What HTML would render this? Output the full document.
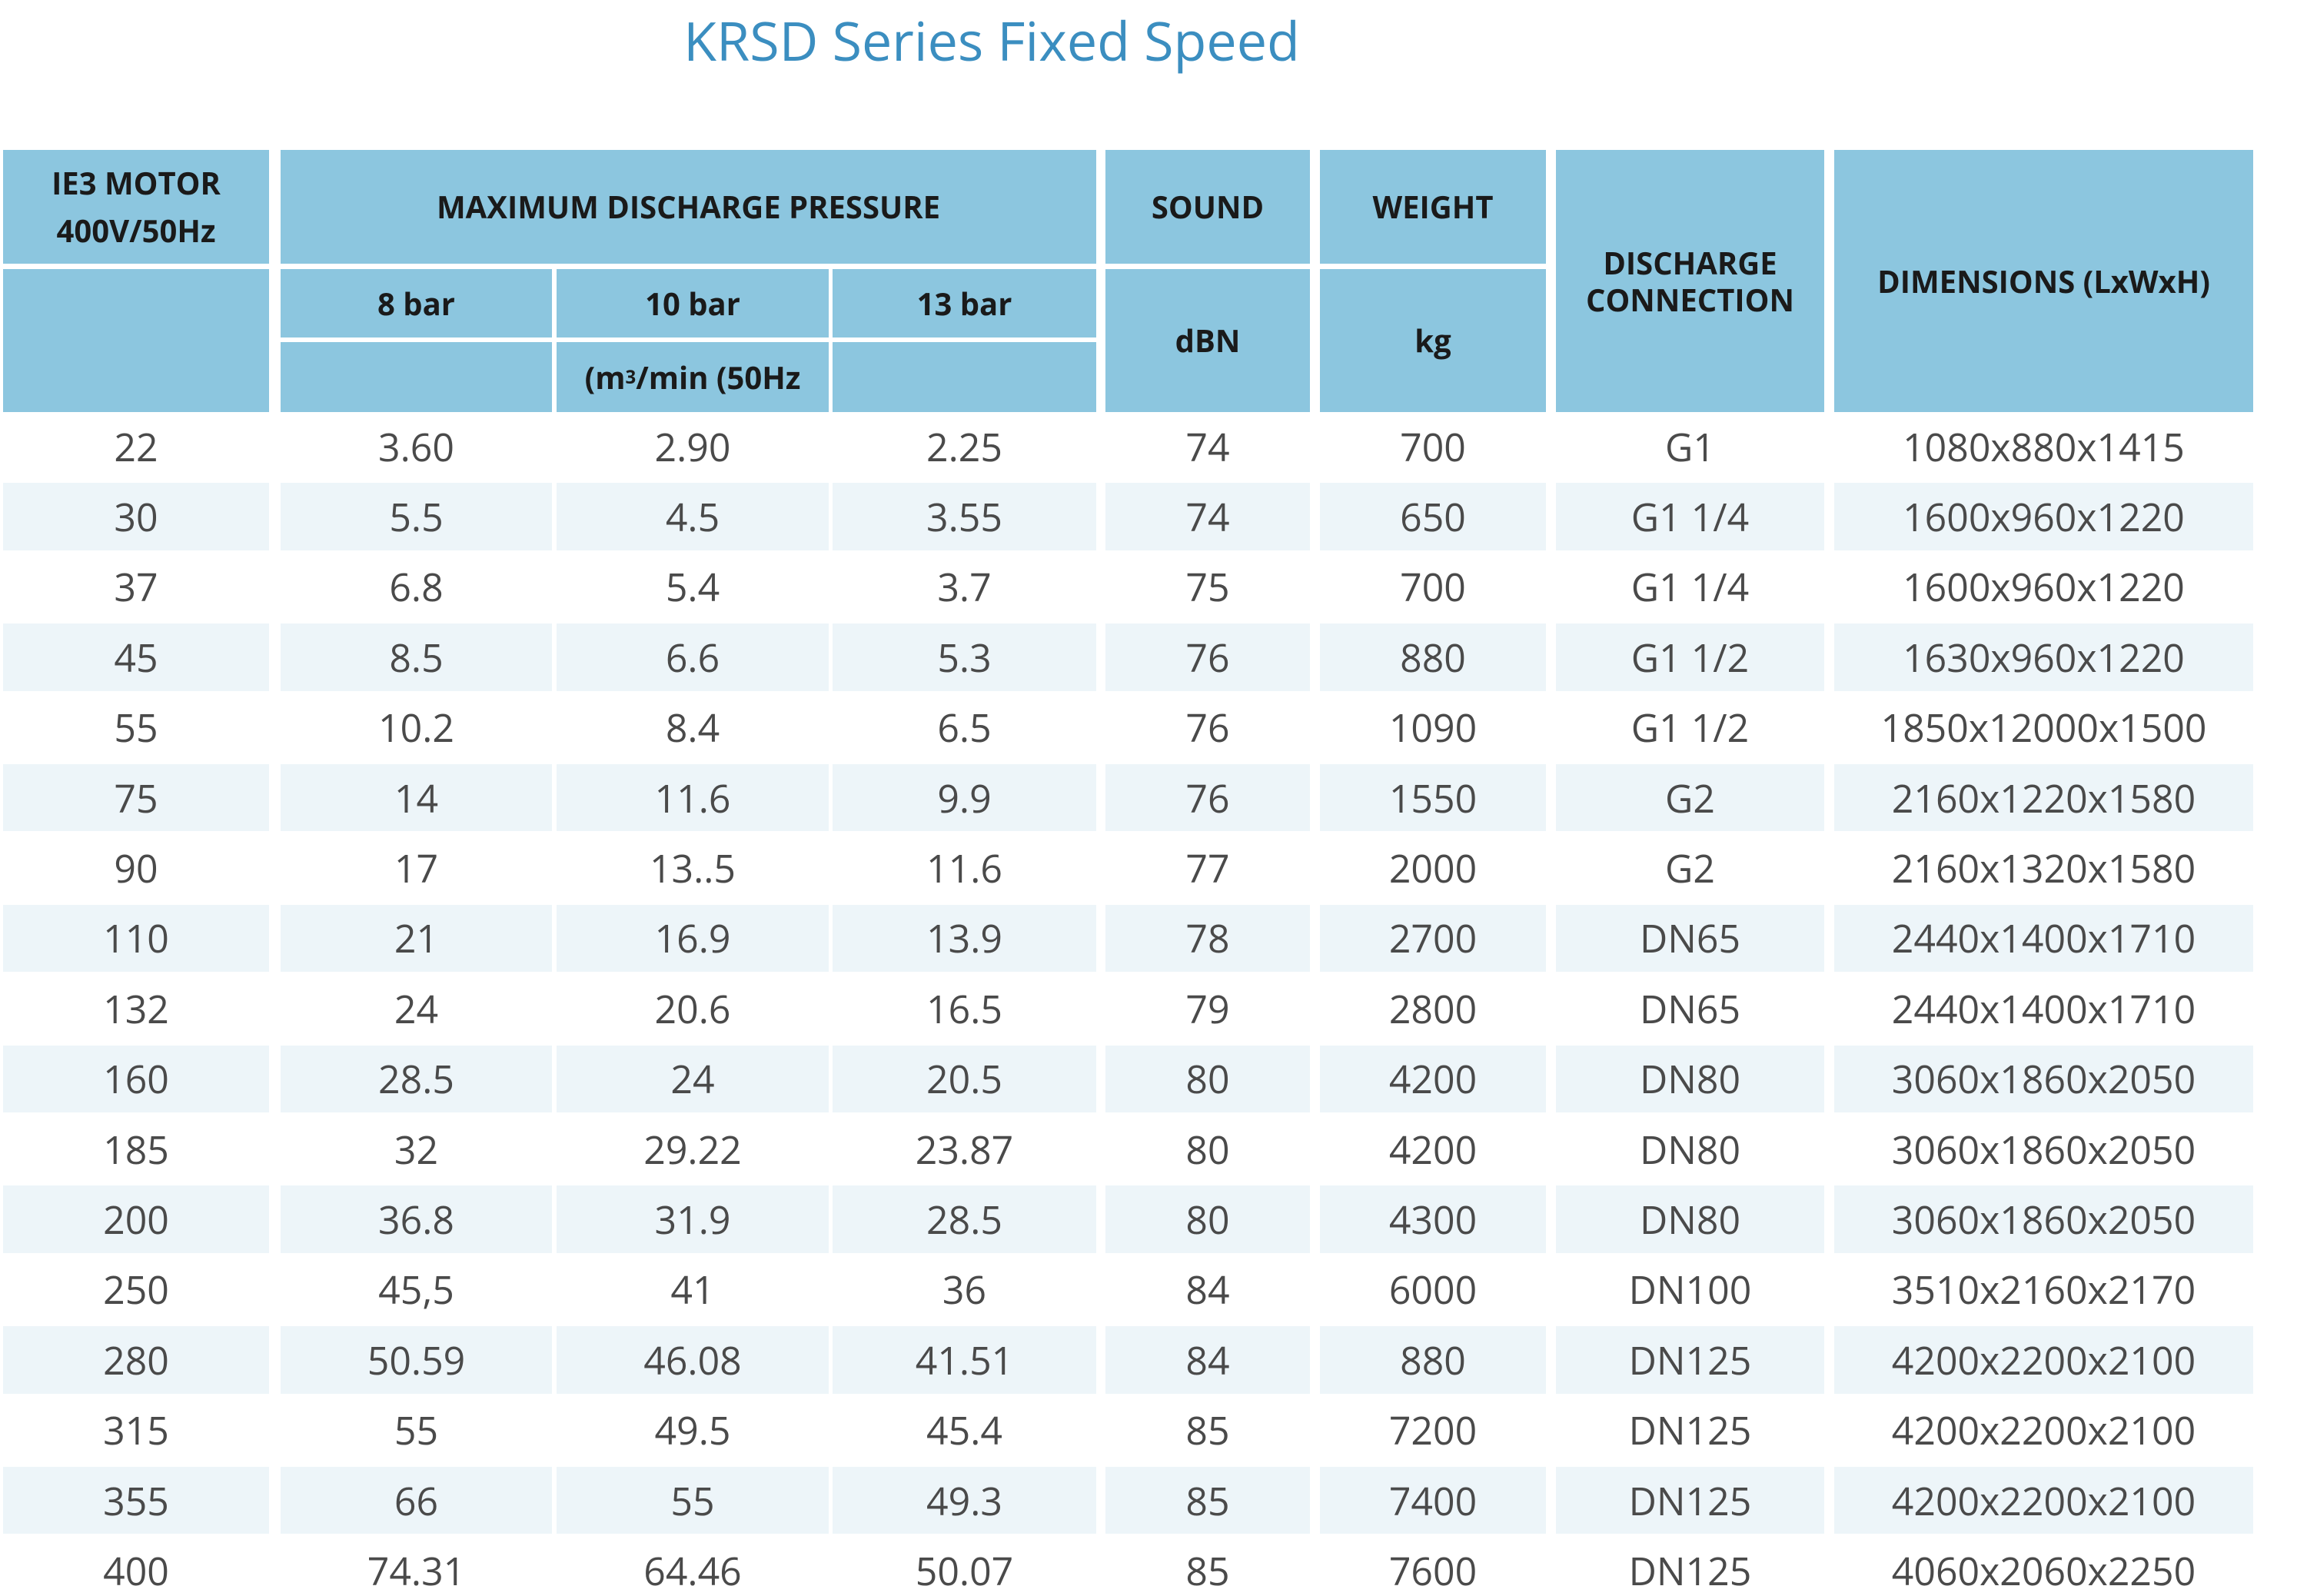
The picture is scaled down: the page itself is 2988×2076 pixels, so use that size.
<!DOCTYPE html>
<html><head><meta charset="utf-8">
<style>
html,body{margin:0;padding:0;background:#fff;}
#root{position:relative;width:2988px;height:2076px;overflow:hidden;font-family:"Open Sans","Liberation Sans",sans-serif;}
.title{position:absolute;left:0;width:2580px;top:4px;text-align:center;font-size:70px;color:#3b8ec0;}
.h{position:absolute;background:#8cc6df;color:#1a1a1a;font-weight:bold;font-size:40px;display:flex;align-items:center;justify-content:center;text-align:center;line-height:48px;}
.c{position:absolute;display:flex;align-items:center;justify-content:center;font-size:50px;color:#4a4a4a;}
.alt{background:#edf5f9;}
</style></head>
<body>
<div id="root">
<div class="title">KRSD Series Fixed Speed</div>
<div class="h" style="left:4px;top:195px;width:346px;height:148px;line-height:62px;">IE3 MOTOR<br>400V/50Hz</div>
<div class="h" style="left:4px;top:350px;width:346px;height:186px;"></div>
<div class="h" style="left:365px;top:195px;width:1061px;height:148px;">MAXIMUM DISCHARGE PRESSURE</div>
<div class="h" style="left:365px;top:350px;width:353px;height:89px;">8 bar</div>
<div class="h" style="left:724px;top:350px;width:354px;height:89px;">10 bar</div>
<div class="h" style="left:1083px;top:350px;width:343px;height:89px;">13 bar</div>
<div class="h" style="left:365px;top:445px;width:353px;height:91px;"></div>
<div class="h" style="left:724px;top:445px;width:354px;height:91px;">(m<span style="font-size:24px">3</span>/min (50Hz</div>
<div class="h" style="left:1083px;top:445px;width:343px;height:91px;"></div>
<div class="h" style="left:1438px;top:195px;width:266px;height:148px;">SOUND</div>
<div class="h" style="left:1438px;top:350px;width:266px;height:186px;">dBN</div>
<div class="h" style="left:1717px;top:195px;width:294px;height:148px;">WEIGHT</div>
<div class="h" style="left:1717px;top:350px;width:294px;height:186px;">kg</div>
<div class="h" style="left:2024px;top:195px;width:349px;height:341px;">DISCHARGE<br>CONNECTION</div>
<div class="h" style="left:2386px;top:195px;width:545px;height:341px;">DIMENSIONS (LxWxH)</div>
</div>
<script>
const motor=["22","30","37","45","55","75","90","110","132","160","185","200","250","280","315","355","400"];
const bar8=["3.60","5.5","6.8","8.5","10.2","14","17","21","24","28.5","32","36.8","45,5","50.59","55","66","74.31"];
const bar10=["2.90","4.5","5.4","6.6","8.4","11.6","13..5","16.9","20.6","24","29.22","31.9","41","46.08","49.5","55","64.46"];
const bar13=["2.25","3.55","3.7","5.3","6.5","9.9","11.6","13.9","16.5","20.5","23.87","28.5","36","41.51","45.4","49.3","50.07"];
const sound=["74","74","75","76","76","76","77","78","79","80","80","80","84","84","85","85","85"];
const weight=["700","650","700","880","1090","1550","2000","2700","2800","4200","4200","4300","6000","880","7200","7400","7600"];
const conn=["G1","G1 1/4","G1 1/4","G1 1/2","G1 1/2","G2","G2","DN65","DN65","DN80","DN80","DN80","DN100","DN125","DN125","DN125","DN125"];
const dims=["1080x880x1415","1600x960x1220","1600x960x1220","1630x960x1220","1850x12000x1500","2160x1220x1580","2160x1320x1580","2440x1400x1710","2440x1400x1710","3060x1860x2050","3060x1860x2050","3060x1860x2050","3510x2160x2170","4200x2200x2100","4200x2200x2100","4200x2200x2100","4060x2060x2250"];
const cols=[[4,350],[365,718],[724,1078],[1083,1426],[1438,1704],[1717,2011],[2024,2373],[2386,2931]];
const colNames=["motor","8bar","10bar","13bar","sound","weight","connection","dimensions"];
const series=[motor,bar8,bar10,bar13,sound,weight,conn,dims];
const root=document.getElementById('root');
const top0=537,pitch=91.4;
for(let r=0;r<motor.length;r++){
  for(let c=0;c<cols.length;c++){
    const d=document.createElement('div');
    d.className='c'+(r%2===1?' alt':'');
    
    
    d.style.left=cols[c][0]+'px';
    d.style.width=(cols[c][1]-cols[c][0])+'px';
    d.style.top=(top0+r*pitch)+'px';
    d.style.height=(pitch-4)+'px';
    d.textContent=series[c][r];
    root.appendChild(d);
  }
}
</script>
</body></html>
